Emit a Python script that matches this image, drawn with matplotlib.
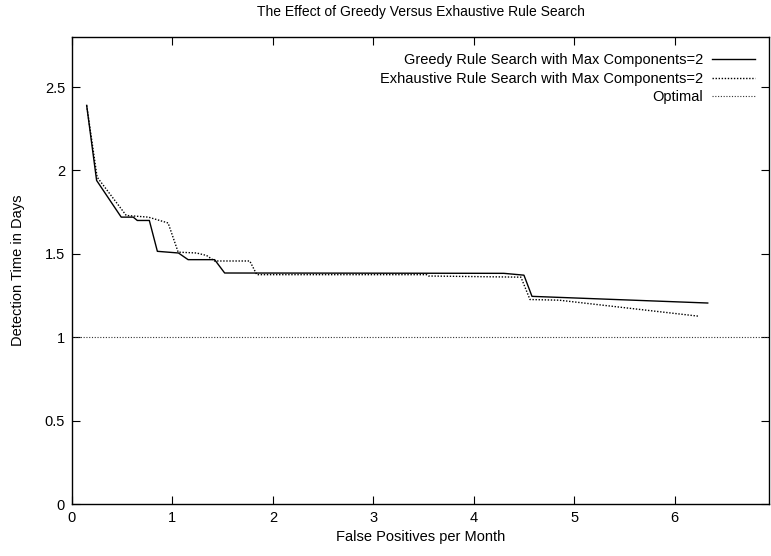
import matplotlib
matplotlib.use("Agg")
import matplotlib.pyplot as plt

plt.rcParams['font.family'] = ['Liberation Sans', 'DejaVu Sans']

title = "The Effect of Greedy Versus Exhaustive Rule Search"
xlabel = "False Positives per Month"
ylabel = "Detection Time in Days"

greedy_label = "Greedy Rule Search with Max Components=2"
greedy_x = [0.146, 0.245, 0.49, 0.61, 0.65, 0.77, 0.85, 1.06, 1.156, 1.42, 1.52, 4.30, 4.50, 4.58, 6.33]
greedy_y = [2.39, 1.94, 1.72, 1.72, 1.70, 1.70, 1.515, 1.505, 1.465, 1.465, 1.385, 1.383, 1.372, 1.245, 1.205]

exh_label = "Exhaustive Rule Search with Max Components=2"
exh_x = [0.146, 0.25, 0.54, 0.76, 0.957, 1.057, 1.24, 1.34, 1.42, 1.77, 1.84, 3.53, 3.55, 4.47, 4.56, 4.85, 6.24]
exh_y = [2.39, 1.96, 1.73, 1.72, 1.685, 1.51, 1.505, 1.49, 1.457, 1.457, 1.375, 1.375, 1.367, 1.36, 1.226, 1.222, 1.126]

opt_label = "Optimal"
opt_y = 1.0

xlim = (0, 6.94)
ylim = (0, 2.8)
xticks = [0, 1, 2, 3, 4, 5, 6]
yticks = [0, 0.5, 1, 1.5, 2, 2.5]
yticklabels = ["0", "0.5", "1", "1.5", "2", "2.5"]

fig = plt.figure(figsize=(7.71, 5.56), dpi=100)
ax = fig.add_axes([72/771, 1 - 504/556, 697/771, 467/556])

ax.plot(greedy_x, greedy_y, color='black', lw=1.0, label=greedy_label)
ax.plot(exh_x, exh_y, color='black', lw=1.0, linestyle=(0, (1, 1.2)), label=exh_label)
ax.axhline(opt_y, color='#333333', lw=0.8, linestyle=(0, (1, 1.5)), label=opt_label)

ax.set_xlim(*xlim)
ax.set_ylim(*ylim)
ax.set_xticks(xticks)
ax.set_xticklabels([str(t) for t in xticks])
ax.set_yticks(yticks)
ax.set_yticklabels(yticklabels)
ax.tick_params(direction='in', length=6, width=0.8, top=True, right=True,
               labelsize=10.5, pad=5, colors='black')
for s in ax.spines.values():
    s.set_linewidth(1.0)

ax.set_title(title, fontsize=10, pad=15)
ax.set_xlabel(xlabel, fontsize=10.5, labelpad=4)
ax.set_ylabel(ylabel, fontsize=10.5, labelpad=14)

ax.legend(loc='upper right', markerfirst=False, frameon=False, fontsize=10.5,
          handlelength=2.95, handletextpad=0.6, labelspacing=0.3,
          borderaxespad=0.4, bbox_to_anchor=(0.996, 0.99))

fig.savefig("out.png", dpi=100)
